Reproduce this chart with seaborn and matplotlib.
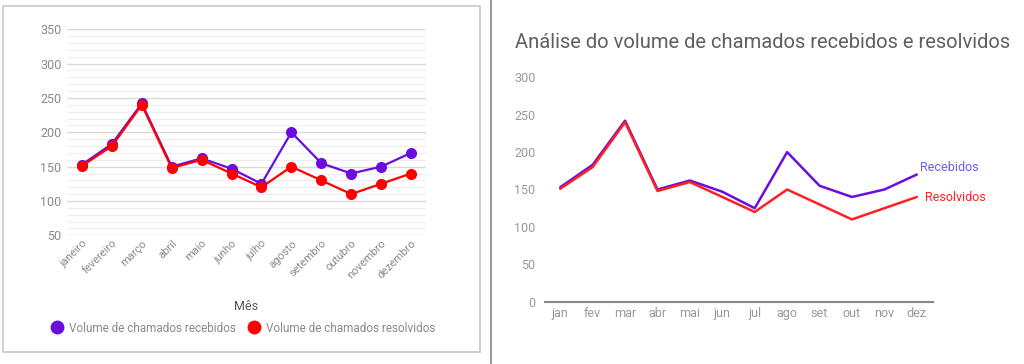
import numpy as np
import matplotlib
matplotlib.use("Agg")
import matplotlib.pyplot as plt
from matplotlib.lines import Line2D
from matplotlib.patches import Rectangle
from matplotlib.ticker import MultipleLocator
import seaborn as sns
import pandas as pd

meses = ['janeiro', 'fevereiro', 'março', 'abril', 'maio', 'junho', 'julho',
         'agosto', 'setembro', 'outubro', 'novembro', 'dezembro']
meses_curto = ['jan', 'fev', 'mar', 'abr', 'mai', 'jun', 'jul',
               'ago', 'set', 'out', 'nov', 'dez']
recebidos = [153, 183, 242, 150, 162, 147, 125, 200, 155, 140, 150, 170]
resolvidos = [151, 180, 240, 148, 160, 140, 120, 150, 130, 110, 125, 140]
serie_longa = ['Volume de chamados recebidos', 'Volume de chamados resolvidos']
serie_curta = ['Recebidos', 'Resolvidos']

roxo = '#6a0dde'
vermelho = '#ff0000'

sns.set_theme(style='white')
plt.rcParams['font.family'] = ['Roboto', 'DejaVu Sans']

fig = plt.figure(figsize=(10.24, 3.64), dpi=100)

# ---- painel esquerdo
df1 = pd.DataFrame({
    'Mês': meses * 2,
    'valor': recebidos + resolvidos,
    'serie': [serie_longa[0]] * 12 + [serie_longa[1]] * 12,
})
ax1 = fig.add_axes([67 / 1024, 1 - 235.3 / 364, 359 / 1024, 206 / 364])
sns.lineplot(data=df1, x='Mês', y='valor', hue='serie', palette=[roxo, vermelho],
             marker='o', markersize=8, markeredgewidth=0, linewidth=1.6,
             sort=False, legend=False, ax=ax1, zorder=3)
ax1.set_xlim(-0.5, 11.5)
ax1.set_ylim(50, 350)
ax1.yaxis.set_major_locator(MultipleLocator(50))
ax1.yaxis.set_minor_locator(MultipleLocator(10))
ax1.grid(which='major', axis='y', color='#d9d9d9', linewidth=1)
ax1.grid(which='minor', axis='y', color='#eeeeee', linewidth=0.8)
ax1.grid(False, axis='x')
for s in ax1.spines.values():
    s.set_visible(False)
ax1.tick_params(axis='y', which='both', length=0, labelsize=9, labelcolor='#8a8a8a', pad=4)
ax1.tick_params(axis='x', length=0, labelsize=8, labelcolor='#8a8a8a', pad=2)
plt.setp(ax1.get_xticklabels(), rotation=45, ha='right', rotation_mode='anchor')
ax1.set_ylabel('')
ax1.set_xlabel('Mês', fontsize=9, color='#555555', labelpad=14)

handles = [Line2D([], [], linestyle='none', marker='o', markersize=10,
                  markerfacecolor=c, markeredgewidth=0) for c in (roxo, vermelho)]
fig.legend(handles, serie_longa, loc='center', bbox_to_anchor=(243 / 1024, 1 - 328 / 364),
           ncol=2, frameon=False, fontsize=8.5, labelcolor='#8a8a8a',
           handletextpad=0.55, columnspacing=1.0, handlelength=1.0)

# borda do painel e separador
fig.patches.append(Rectangle((3 / 1024, 1 - 352 / 364), 477 / 1024, 346 / 364,
                             transform=fig.transFigure, fill=False,
                             edgecolor='#c8c8c8', linewidth=1.2))
fig.add_artist(Line2D([491 / 1024, 491 / 1024], [0, 1], transform=fig.transFigure,
                      color='#9a9a9a', linewidth=1.5))

# ---- painel direito
df2 = pd.DataFrame({
    'mes': meses_curto * 2,
    'valor': recebidos + resolvidos,
    'serie': [serie_curta[0]] * 12 + [serie_curta[1]] * 12,
})
ax2 = fig.add_axes([545 / 1024, 1 - 301.7 / 364, 388 / 1024, 224.4 / 364])
sns.lineplot(data=df2, x='mes', y='valor', hue='serie', palette=[roxo, '#ff2020'],
             linewidth=1.8, sort=False, legend=False, ax=ax2)
ax2.set_xlim(-0.47, 11.5)
ax2.set_ylim(0, 300)
ax2.set_yticks(np.arange(0, 301, 50))
for s in ['top', 'right', 'left']:
    ax2.spines[s].set_visible(False)
ax2.spines['bottom'].set_color('#888888')
ax2.spines['bottom'].set_linewidth(1.5)
ax2.tick_params(axis='both', length=0, labelsize=9, labelcolor='#999999')
ax2.tick_params(axis='y', pad=7)
ax2.tick_params(axis='x', pad=4)
ax2.set_xlabel('')
ax2.set_ylabel('')
ax2.text(11.09, 180, serie_curta[0], color='#6b5cf0', fontsize=9,
         ha='left', va='center')
ax2.text(11.25, 139, serie_curta[1], color='#ff2020', fontsize=9,
         ha='left', va='center')
fig.text(515 / 1024, 1 - 42 / 364, 'Análise do volume de chamados recebidos e resolvidos',
         fontsize=14.5, color='#5f5f5f', ha='left', va='center')

fig.savefig('out.png', dpi=100)
